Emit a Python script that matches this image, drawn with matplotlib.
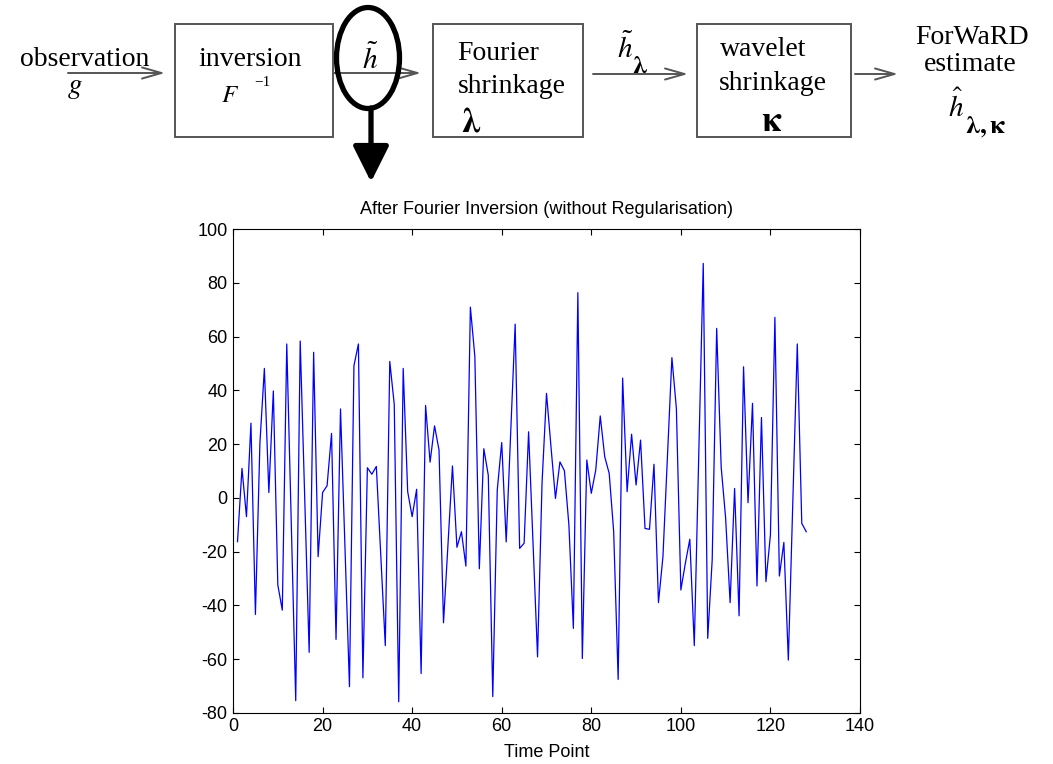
import numpy as np
import matplotlib
matplotlib.use("Agg")
import matplotlib.pyplot as plt
from matplotlib.patches import Rectangle, Ellipse, FancyArrowPatch

plt.rcParams['mathtext.fontset'] = 'stix'
plt.rcParams['axes.unicode_minus'] = False

# signal after plain Fourier inversion, one value per time point
time_point = np.arange(1, 129)
h_tilde = [
    -16.3, 11.0, -7.0, 27.8, -43.4, 20.3, 48.2, 2.0, 39.8, -32.4,
    -41.8, 57.3, -9.1, -75.5, 58.4, 0.5, -57.5, 54.2, -21.9, 2.0,
    4.5, 24.0, -52.7, 33.1, -18.6, -70.3, 49.2, 57.3, -67.0, 11.2,
    8.8, 11.7, -21.7, -55.0, 50.8, 34.8, -75.9, 48.2, 2.3, -7.0,
    3.2, -65.4, 34.4, 13.3, 26.8, 17.8, -46.5, -17.3, 11.9, -18.4,
    -12.6, -25.4, 71.0, 52.6, -26.4, 18.3, 8.4, -74.0, 2.9, 20.6,
    -16.4, 24.0, 64.7, -18.8, -16.9, 24.6, -17.0, -59.2, 5.4, 38.9,
    19.0, -0.2, 13.4, 10.1, -10.1, -48.6, 76.4, -59.8, 14.1, 1.7,
    10.4, 30.5, 15.3, 9.1, -12.6, -67.6, 44.6, 2.3, 23.7, 4.8,
    21.5, -11.4, -11.7, 12.5, -39.0, -21.9, 15.0, 52.2, 33.3, -34.3,
    -24.4, -15.4, -55.0, 16.0, 87.3, -52.3, -23.0, 63.1, 11.6, -7.6,
    -39.0, 3.5, -43.9, 48.8, -1.8, 35.2, -32.8, 29.9, -31.2, -13.8,
    67.2, -29.1, -16.6, -60.4, -1.5, 57.3, -9.5, -12.6,
]

fig = plt.figure(figsize=(10.53, 7.64), dpi=100)

# --- block diagram, drawn in pixel units on a full-figure axes ---
top = fig.add_axes([0, 0, 1, 1])
top.set_xlim(0, 1053)
top.set_ylim(764, 0)
top.axis('off')

serif = 'Liberation Serif'
grey = '#555555'
for x0, x1 in [(175, 333), (433, 583), (697, 851)]:
    top.add_patch(Rectangle((x0, 24), x1 - x0, 113, fill=False, edgecolor=grey, linewidth=1.4))


def arrow(x0, x1, y):
    top.add_patch(FancyArrowPatch((x0, y), (x1, y), arrowstyle='->,head_length=14,head_width=4',
                                  color=grey, linewidth=1.4, mutation_scale=1,
                                  shrinkA=0, shrinkB=0))


arrow(68, 165, 73)
arrow(334, 421, 73)
arrow(593, 688, 74)
arrow(855, 898, 74)


def word(x, y, s, size=20):
    top.text(x, y, s, family=serif, fontsize=size, ha='center', va='baseline')


word(85, 66, 'observation')
top.text(67, 93, '$g$', fontsize=21, ha='left', va='baseline')

word(250, 66, 'inversion')
top.text(221, 102, '$F$', fontsize=18, ha='left', va='baseline')
top.text(254, 86, '\u22121', family=serif, fontsize=11, ha='left', va='baseline')

top.text(362, 69, r'$\tilde{h}$', fontsize=21, ha='left', va='baseline')

word(498, 60, 'Fourier')
word(512, 93, 'shrinkage')
top.text(461, 131, r'$\mathbf{\lambda}$', fontsize=25, ha='left', va='baseline')

top.text(617, 58, r'$\tilde{h}$', fontsize=21, ha='left', va='baseline')
top.text(632, 73, r'$\mathbf{\lambda}$', fontsize=19, ha='left', va='baseline')

word(763, 56, 'wavelet')
word(773, 90, 'shrinkage')
top.text(761, 131, r'$\mathbf{\kappa}$', fontsize=25, ha='left', va='baseline')

word(972, 44, 'ForWaRD')
word(970, 71, 'estimate')
top.text(948, 117, r'$\hat{h}$', fontsize=21, ha='left', va='baseline')
top.text(965, 133, r'$\mathbf{\lambda,\kappa}$', fontsize=19, ha='left', va='baseline')

# highlight of the intermediate signal and the pointer down to the plot
top.add_patch(Ellipse((368, 58), 63, 101, fill=False, edgecolor='black', linewidth=3.8))
top.add_patch(FancyArrowPatch((371, 108), (371, 182), arrowstyle='-|>,head_length=22,head_width=11',
                              color='black', linewidth=3.8, mutation_scale=1, shrinkA=0, shrinkB=0))

# --- signal plot ---
ax = fig.add_axes([0.2213, 0.0671, 0.5954, 0.6328])
ax.plot(time_point, h_tilde, color='blue', linewidth=0.9)
ax.set_xlim(0, 140)
ax.set_ylim(-80, 100)
ax.set_xticks(np.arange(0, 141, 20))
ax.set_yticks(np.arange(-80, 101, 20))
ax.tick_params(direction='in', top=True, right=True, length=4, labelsize=13, pad=4)
for lab in ax.get_xticklabels() + ax.get_yticklabels():
    lab.set_family('Liberation Sans')
ax.set_title('After Fourier Inversion (without Regularisation)', family='Liberation Sans',
             fontsize=13, pad=11)
ax.set_xlabel('Time Point', family='Liberation Sans', fontsize=13, labelpad=6)

fig.savefig('out.png', dpi=100)
